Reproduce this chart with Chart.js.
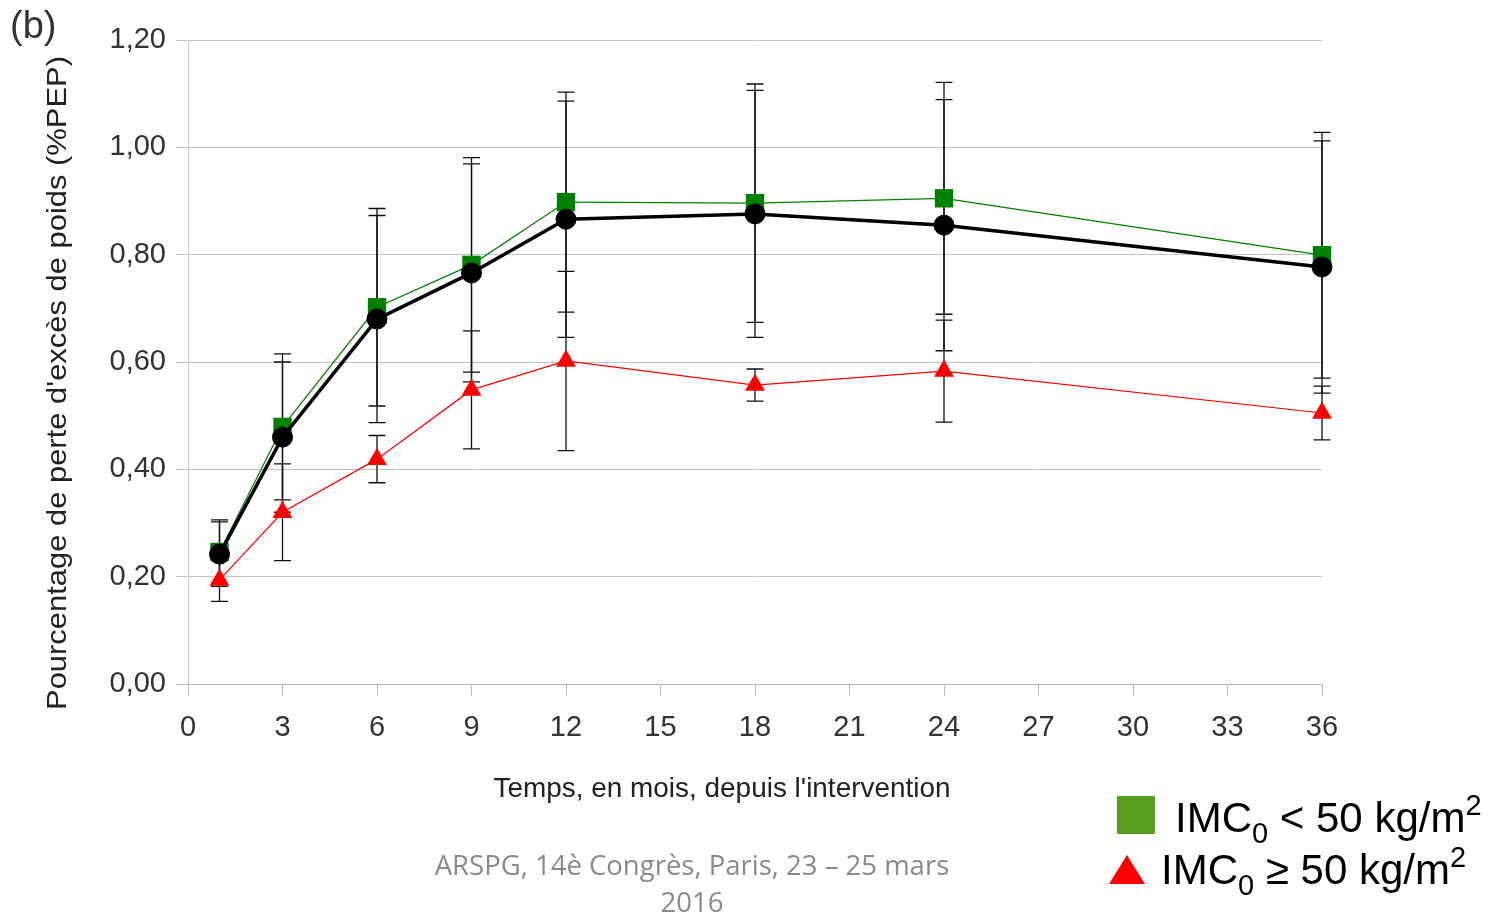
<!DOCTYPE html>
<html>
<head>
<meta charset="utf-8">
<script src="https://cdn.jsdelivr.net/npm/chart.js@4"></script>
<style>
  body { margin: 0; background: #fff; }
  #wrap { position: relative; width: 1498px; height: 914px; }
  .txt { position: absolute; font-family: "Liberation Sans", Arial, sans-serif; white-space: nowrap; }
  #panel { left: 10px; top: 4px; font-size: 38px; color: #333; }
  #footer { left: 392px; width: 600px; top: 846px; text-align: center; font-family: "Open Sans", sans-serif;
            font-size: 27.5px; line-height: 37px; color: #8a8a8a; }
  .leg { font-size: 42px; color: #000; line-height: 42px; }
  .leg sub { font-size: 29px; vertical-align: -11px; line-height: 0; }
  .leg sup { font-size: 29px; vertical-align: 17px; line-height: 0; }
  #sq { position: absolute; left: 1117px; top: 796px; width: 38px; height: 38px; background: #5a9e1e; }
  #tri { position: absolute; left: 1109px; top: 855px; width: 0; height: 0;
         border-left: 18px solid transparent; border-right: 18px solid transparent; border-bottom: 29px solid #ff0000; }
</style>
</head>
<body>
<div id="wrap">
  <canvas id="pepChart"></canvas>
  <div class="txt" id="panel">(b)</div>
  <div id="sq"></div>
  <div class="txt leg" style="left:1175px; top:797px;">IMC<sub>0</sub> &lt; 50 kg/m<sup>2</sup></div>
  <div id="tri"></div>
  <div class="txt leg" style="left:1161px; top:849px;">IMC<sub>0</sub> &ge; 50 kg/m<sup>2</sup></div>
  <div class="txt" id="footer">ARSPG, 14è Congrès, Paris, 23 – 25 mars<br>2016</div>
</div>
<script>
// months after surgery
const months = [1, 3, 6, 9, 12, 18, 24, 36];

// all patients
const allMean = [0.242, 0.460, 0.680, 0.766, 0.866, 0.876, 0.855, 0.777];
const allSd   = [0.060, 0.140, 0.193, 0.203, 0.220, 0.230, 0.234, 0.235];

// IMC0 < 50
const lowMean = [0.246, 0.479, 0.702, 0.781, 0.898, 0.896, 0.905, 0.799];
const lowSd   = [0.060, 0.136, 0.184, 0.200, 0.205, 0.222, 0.216, 0.229];

// IMC0 >= 50
const highMean = [0.194, 0.320, 0.419, 0.548, 0.602, 0.557, 0.583, 0.505];
const highSd   = [0.040, 0.090, 0.044, 0.110, 0.167, 0.030, 0.095, 0.050];

const toPoints = (ys) => months.map((m, i) => ({ x: m, y: ys[i] }));

// error bars drawn under the markers
const errorBars = {
    id: 'errorBars',
    beforeDatasetsDraw(chart) {
        const ctx = chart.ctx;
        const xs = chart.scales.x;
        const ys = chart.scales.y;
        ctx.save();
        ctx.strokeStyle = '#111';
        ctx.lineWidth = 1.3;
        chart.data.datasets.forEach((ds) => {
            ds.sd.forEach((s, i) => {
                const px = xs.getPixelForValue(months[i]);
                const top = ys.getPixelForValue(ds.mean[i] + s);
                const bot = ys.getPixelForValue(ds.mean[i] - s);
                ctx.beginPath();
                ctx.moveTo(px, top); ctx.lineTo(px, bot);
                ctx.moveTo(px - 8.5, top); ctx.lineTo(px + 8.5, top);
                ctx.moveTo(px - 8.5, bot); ctx.lineTo(px + 8.5, bot);
                ctx.stroke();
            });
        });
        ctx.restore();
    }
};

// axis titles, placed like the original
const axisTitles = {
    id: 'axisTitles',
    afterDraw(chart) {
        const ctx = chart.ctx;
        ctx.save();
        ctx.fillStyle = '#222';
        ctx.textAlign = 'center';
        ctx.textBaseline = 'middle';
        ctx.font = '28px "Liberation Sans", Arial, sans-serif';

        let t = "Temps, en mois, depuis l'intervention";
        let w = ctx.measureText(t).width;
        ctx.translate(722, 789);
        ctx.scale(457 / w, 1);
        ctx.fillText(t, 0, 0);
        ctx.restore();

        ctx.save();
        ctx.fillStyle = '#222';
        ctx.textAlign = 'center';
        ctx.textBaseline = 'middle';
        ctx.font = '28px "Liberation Sans", Arial, sans-serif';
        t = "Pourcentage de perte d'excès de poids (%PEP)";
        w = ctx.measureText(t).width;
        ctx.translate(58, 383);
        ctx.rotate(-Math.PI / 2);
        ctx.scale(654 / w, 1);
        ctx.fillText(t, 0, 0);
        ctx.restore();
    }
};

const pepChart = new Chart('pepChart', {
    type: 'line',
    data: {
        datasets: [
            {
                label: 'Ensemble',
                data: toPoints(allMean),
                mean: allMean,
                sd: allSd,
                borderColor: '#000',
                backgroundColor: '#000',
                borderWidth: 3.5,
                pointStyle: 'circle',
                pointRadius: 10,
                pointBorderColor: '#000',
                pointBorderWidth: 1,
                clip: false
            },
            {
                label: 'IMC0 < 50 kg/m2',
                data: toPoints(lowMean),
                mean: lowMean,
                sd: lowSd,
                borderColor: '#008000',
                backgroundColor: '#008000',
                borderWidth: 1.2,
                pointStyle: 'rect',
                pointRadius: 13,
                pointBorderWidth: 0,
                clip: false
            },
            {
                label: 'IMC0 ≥ 50 kg/m2',
                data: toPoints(highMean),
                mean: highMean,
                sd: highSd,
                borderColor: '#ff0000',
                backgroundColor: '#ff0000',
                borderWidth: 1.2,
                pointStyle: 'triangle',
                pointRadius: 11.5,
                pointBorderWidth: 0,
                clip: false
            }
        ]
    },
    options: {
        responsive: true,
        maintainAspectRatio: false,
        animation: false,
        layout: {
            padding: { top: 40, right: 176, left: 0, bottom: 0 }
        },
        plugins: {
            legend: { display: false },
            tooltip: { enabled: false }
        },
        scales: {
            x: {
                type: 'linear',
                min: 0,
                max: 36,
                afterFit: (scale) => { scale.height = 230; },
                ticks: {
                    stepSize: 3,
                    padding: 15,
                    color: '#333',
                    font: { family: '"Liberation Sans", Arial, sans-serif', size: 29 }
                },
                grid: {
                    drawOnChartArea: false,
                    tickLength: 12,
                    color: '#bdbdbd'
                },
                border: { color: '#bdbdbd' }
            },
            y: {
                min: 0,
                max: 1.2,
                afterFit: (scale) => { scale.width = 188; },
                ticks: {
                    stepSize: 0.2,
                    padding: 10,
                    color: '#333',
                    font: { family: '"Liberation Sans", Arial, sans-serif', size: 29 },
                    callback: (v) => v.toFixed(2).replace('.', ',')
                },
                grid: {
                    tickLength: 12,
                    color: '#c4c4c4'
                },
                border: { color: '#d0d0d0' }
            }
        }
    },
    plugins: [errorBars, axisTitles]
});
</script>
</body>
</html>
